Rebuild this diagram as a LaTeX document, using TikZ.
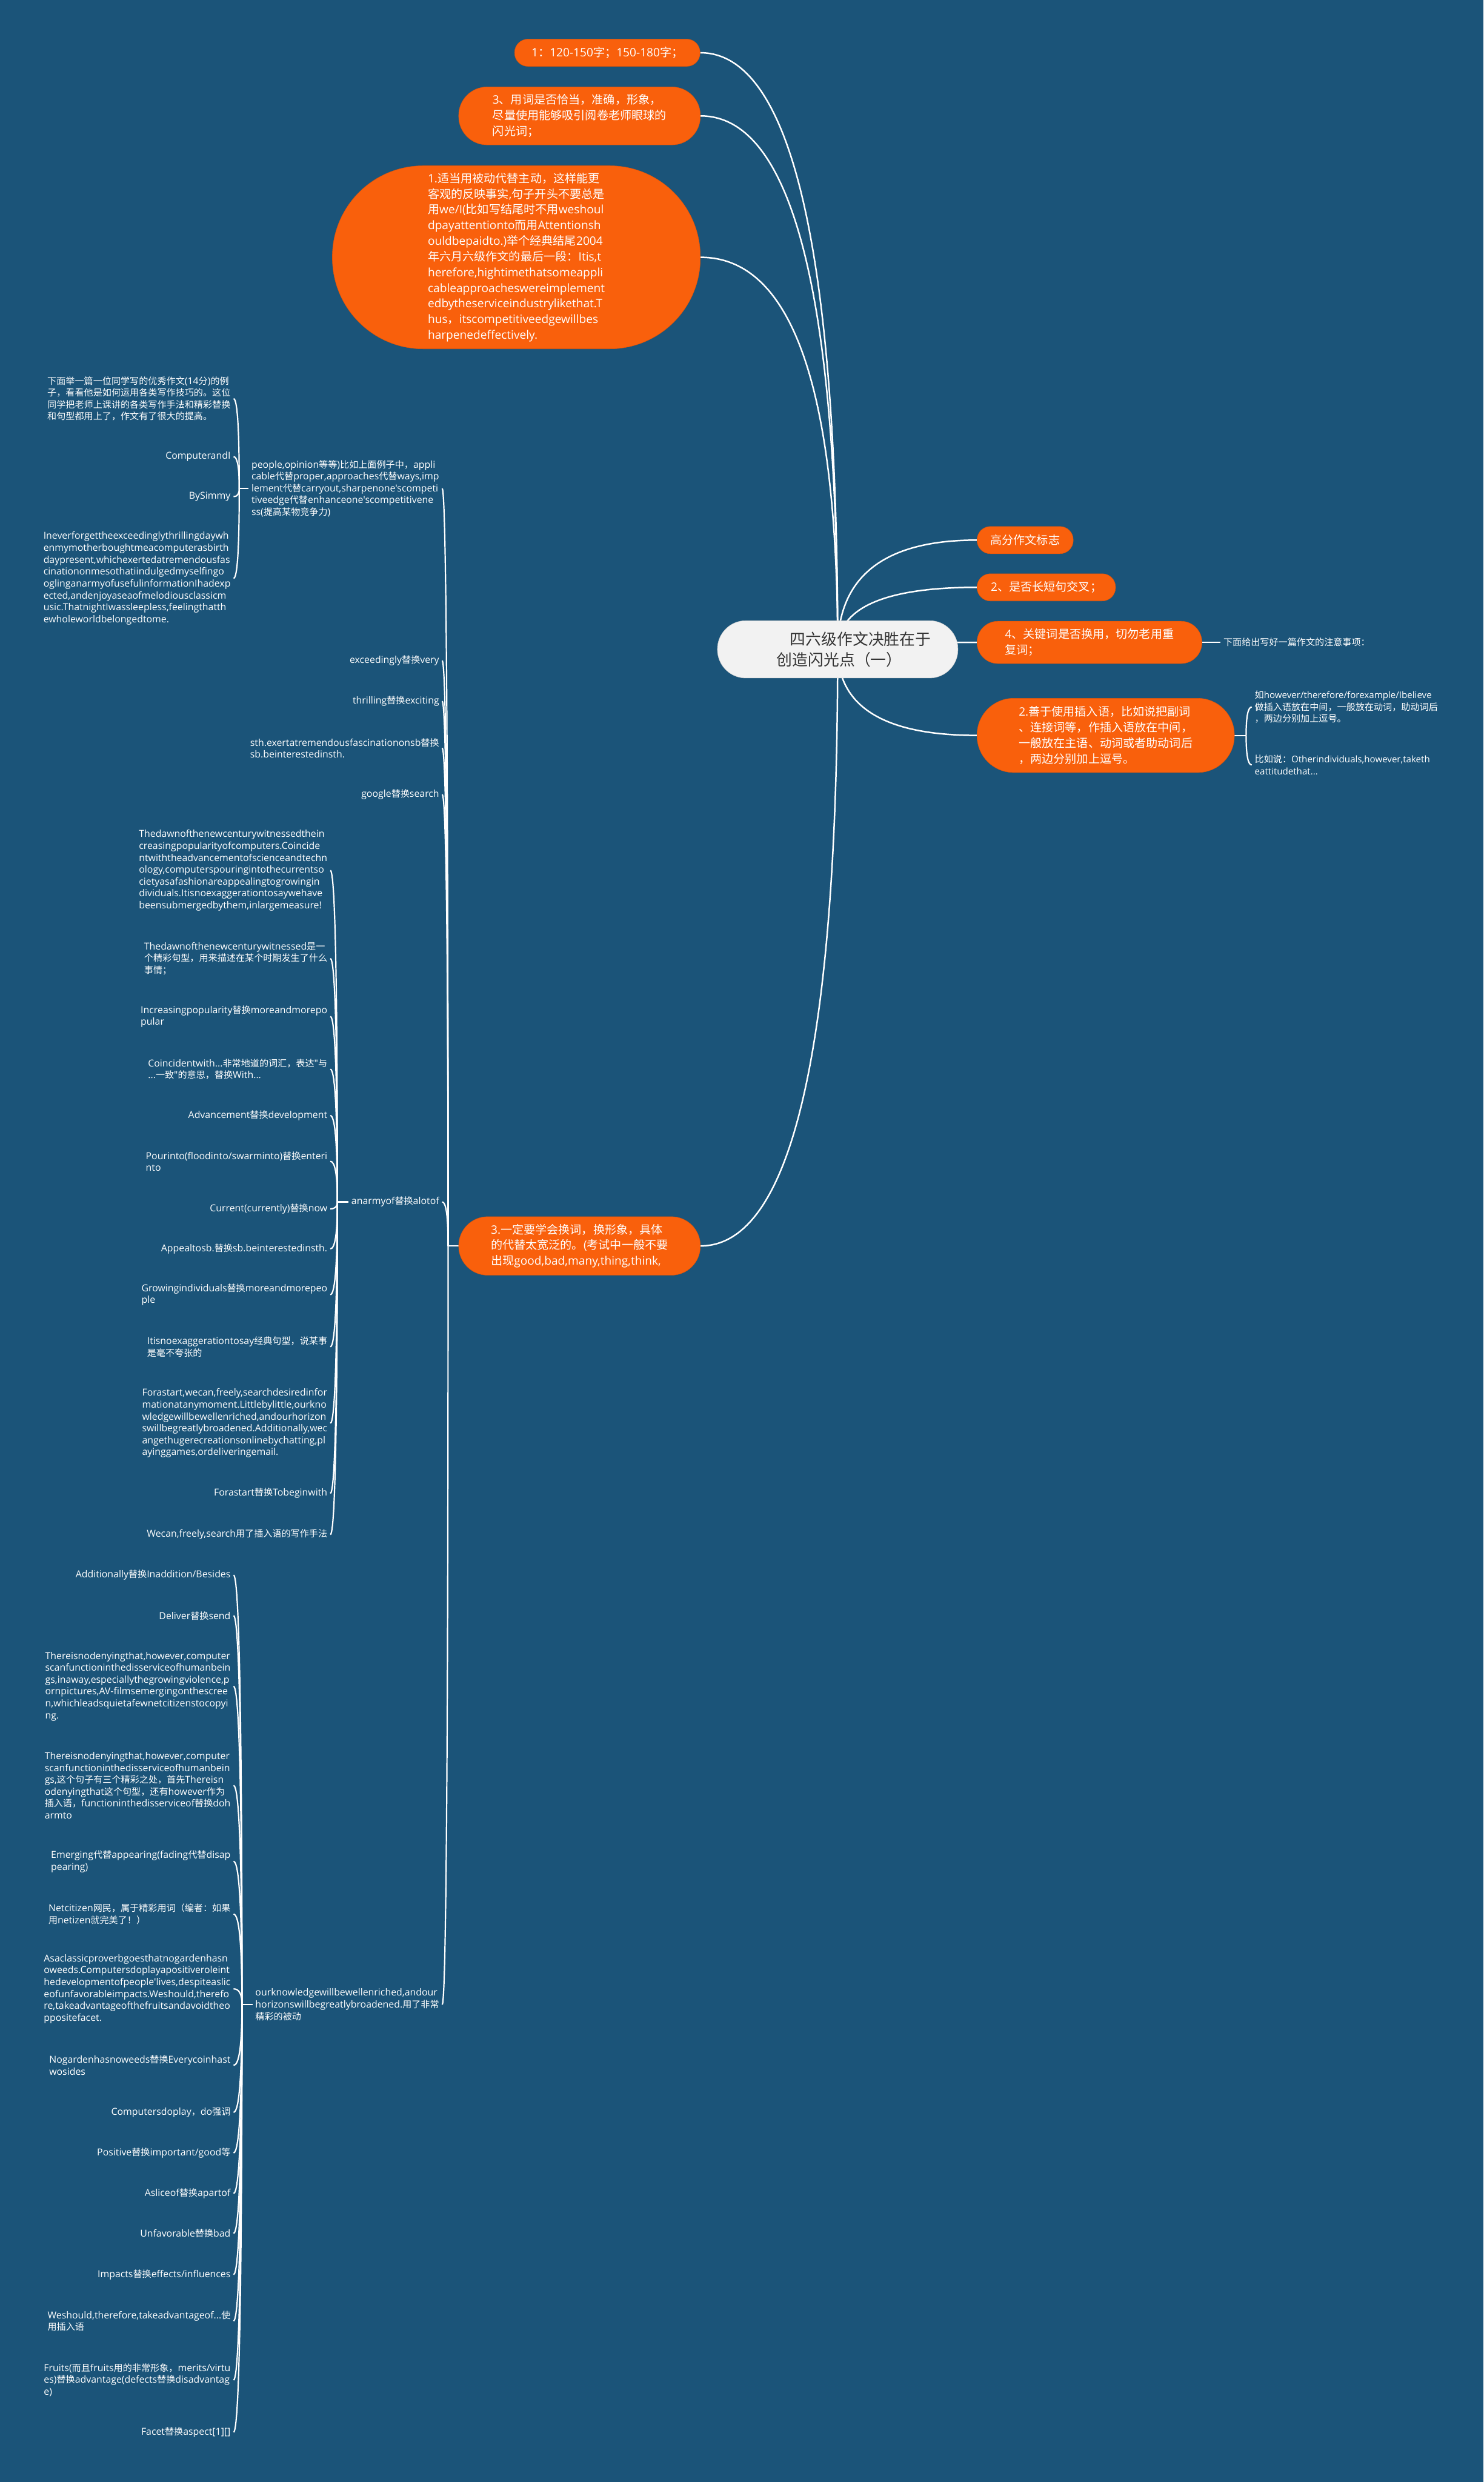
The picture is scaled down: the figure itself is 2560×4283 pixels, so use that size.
\documentclass[tikz,border=0pt]{standalone}
\usepackage{fontspec}
\setmainfont{Open Sans}
\newfontfamily\latf{Open Sans}
\newfontfamily\latfw[Scale=1.05]{Open Sans}
\newfontfamily\cjkf{Noto Sans CJK SC}
\def\curlat{\latf}
\usetikzlibrary{calc}
\chardef\mycjkclass=7
\makeatletter
\count@="21
\loop\ifnum\count@<"7F \XeTeXcharclass\count@=0 \advance\count@ by 1 \repeat
\count@="3000
\loop\ifnum\count@<"3040 \XeTeXcharclass\count@=\mycjkclass\relax \advance\count@ by 1 \repeat
\count@="4E00
\loop\ifnum\count@<"A000 \XeTeXcharclass\count@=\mycjkclass\relax \advance\count@ by 1 \repeat
\count@="FF00
\loop\ifnum\count@<"FFF0 \XeTeXcharclass\count@=\mycjkclass\relax \advance\count@ by 1 \repeat
\makeatother
\XeTeXinterchartoks 0 \mycjkclass = {\cjkf}
\XeTeXinterchartoks 4095 \mycjkclass = {\cjkf}
\XeTeXinterchartoks \mycjkclass 0 = {\curlat}
\XeTeXinterchartoks \mycjkclass 4095 = {\curlat}
\XeTeXinterchartokenstate=1
\definecolor{bgblue}{RGB}{27,84,121}
\definecolor{myorange}{RGB}{249,96,12}
\definecolor{rootfill}{RGB}{242,242,242}
\definecolor{roottext}{RGB}{51,51,51}
\pgfdeclarelayer{bglayer}
\pgfdeclarelayer{edgelayer}
\pgfsetlayers{bglayer,edgelayer,main}
\newcommand\qlink[3][]{%
  \coordinate (qB) at (#2 |- #3);
  \draw[#1] (#2) .. controls ($(#2)!0.6667!(qB)$) and ($(#3)!0.6667!(qB)$) .. (#3);}
\begin{document}
\begin{tikzpicture}[x=1pt,y=-1pt,
  onode/.style={fill=myorange, draw=myorange!88!black, line width=0.6pt, text=white,
    font=\def\curlat{\latf}\latf\fontsize{20}{27}\selectfont, align=left, inner sep=0pt},
  stext/.style={text=white, font=\def\curlat{\latf}\latf\fontsize{15.8}{20.5}\selectfont, align=left,
    inner xsep=5pt, inner ysep=2pt},
  ltext/.style={stext, font=\def\curlat{\latfw}\latfw\fontsize{15.8}{20.5}\selectfont},
  mainlink/.style={draw=white, line width=2.6pt},
  sublink/.style={draw=white, line width=2.3pt}]
\begin{pgfonlayer}{bglayer}
\fill[bgblue] (0,0) rectangle (2560,4283);
\end{pgfonlayer}
\path[use as bounding box] (0,0) rectangle (2560,4283);

% root
\node[fill=rootfill, draw=rootfill!85!black, line width=0.6pt, text=roottext, rounded corners=49pt,
  minimum width=415pt, minimum height=99pt, inner sep=0pt, align=left,
  font=\def\curlat{\latf}\latf\fontsize{27}{35}\selectfont] (root) at (1445.5,1120.5)
  {\hspace*{79pt}四六级作文决胜在于\\\hspace*{56pt}创造闪光点（一）};

% left orange nodes
\node[onode, rounded corners=23pt, minimum width=320pt, minimum height=47pt] (n1) at (1048,91)
  {1：120-150字；150-180字；};
\node[onode, rounded corners=49pt, minimum width=417pt, minimum height=100pt] (n3w) at (1000,200)
  {3、用词是否恰当，准确，形象，\\尽量使用能够吸引阅卷老师眼球的\\闪光词；};
\node[onode, rounded corners=157pt, minimum width=635pt, minimum height=316pt] (nbig) at (891,444)
  {1.适当用被动代替主动，这样能更\\客观的反映事实,句子开头不要总是\\用we/I(比如写结尾时不用weshoul\\dpayattentionto而用Attentionsh\\ouldbepaidto.)举个经典结尾2004\\年六月六级作文的最后一段：Itis,t\\herefore,hightimethatsomeappli\\cableapproacheswereimplement\\edbytheserviceindustrylikethat.T\\hus，itscompetitiveedgewillbes\\harpenedeffectively.};
\node[onode, rounded corners=50pt, minimum width=417pt, minimum height=101pt] (n3b) at (1000,2150)
  {3.一定要学会换词，换形象，具体\\的代替太宽泛的。(考试中一般不要\\出现good,bad,many,thing,think,};

% right orange nodes
\node[onode, rounded corners=23pt, minimum width=166pt, minimum height=47pt] (r1) at (1769,932) {高分作文标志};
\node[onode, rounded corners=23pt, minimum width=239pt, minimum height=47pt] (r2) at (1805.5,1013.5) {2、是否长短句交叉；};
\node[onode, rounded corners=36pt, minimum width=388pt, minimum height=73pt] (r4) at (1880,1108.5)
  {4、关键词是否换用，切勿老用重\\复词；};
\node[onode, rounded corners=63pt, minimum width=444pt, minimum height=128pt] (r2b) at (1908,1269)
  {2.善于使用插入语，比如说把副词\\、连接词等，作插入语放在中间，\\一般放在主语、动词或者助动词后\\，两边分别加上逗号。};

% right children
\node[stext, anchor=west] (rn) at (2106,1108.5) {下面给出写好一篇作文的注意事项：};
\node[stext, anchor=west] (rc1) at (2160,1220) {如however/therefore/forexample/Ibelieve\\做插入语放在中间，一般放在动词，助动词后\\，两边分别加上逗号。};
\node[stext, anchor=west] (rc2) at (2160,1320) {比如说：Otherindividuals,however,taketh\\eattitudethat...};

% level 1 (children of n3b)
\node[ltext, anchor=east] (La) at (763,843) {people,opinion等等)比如上面例子中，appli\\cable代替proper,approaches代替ways,imp\\lement代替carryout,sharpenone'scompeti\\tiveedge代替enhanceone'scompetitivene\\ss(提高某物竞争力)};
\node[ltext, anchor=east] (Lb) at (763,1140) {exceedingly替换very};
\node[ltext, anchor=east] (Lc) at (763,1210) {thrilling替换exciting};
\node[ltext, anchor=east] (Ld) at (763,1291) {sth.exertatremendousfascinationonsb替换\\sb.beinterestedinsth.};
\node[ltext, anchor=east] (Le) at (763,1371) {google替换search};
\node[ltext, anchor=east] (Lf) at (763,2074) {anarmyof替换alotof};
\node[ltext, anchor=east] (Lg) at (763,3459) {ourknowledgewillbewellenriched,andour\\horizonswillbegreatlybroadened.用了非常\\精彩的被动};

% children of La
\node[ltext, anchor=east] (P1) at (403,688) {下面举一篇一位同学写的优秀作文(14分)的例\\子，看看他是如何运用各类写作技巧的。这位\\同学把老师上课讲的各类写作手法和精彩替换\\和句型都用上了，作文有了很大的提高。};
\node[ltext, anchor=east] (P2) at (403,788) {ComputerandI};
\node[ltext, anchor=east] (P3) at (403,857) {BySimmy};
\node[ltext, anchor=east] (P4) at (403,998) {Ineverforgettheexceedinglythrillingdaywh\\enmymotherboughtmeacomputerasbirth\\daypresent,whichexertedatremendousfas\\cinationonmesothatiindulgedmyselfingo\\oglinganarmyofusefulinformationIhadexp\\ected,andenjoyaseaofmelodiousclassicm\\usic.ThatnightIwassleepless,feelingthatth\\ewholeworldbelongedtome.};

% children of Lf
\node[ltext, anchor=east] (A1) at (570,1502) {Thedawnofthenewcenturywitnessedthein\\creasingpopularityofcomputers.Coincide\\ntwiththeadvancementofscienceandtechn\\ology,computerspouringintothecurrentso\\cietyasafashionareappealingtogrowingin\\dividuals.Itisnoexaggerationtosaywehave\\beensubmergedbythem,inlargemeasure!};
\node[ltext, anchor=east] (A2) at (570,1654) {Thedawnofthenewcenturywitnessed是一\\个精彩句型，用来描述在某个时期发生了什么\\事情；};
\node[ltext, anchor=east] (A3) at (570,1754) {Increasingpopularity替换moreandmorepo\\pular};
\node[ltext, anchor=east] (A4) at (570,1845) {Coincidentwith...非常地道的词汇，表达"与\\...一致"的意思，替换With...};
\node[ltext, anchor=east] (A5) at (570,1925) {Advancement替换development};
\node[ltext, anchor=east] (A6) at (570,2004) {Pourinto(floodinto/swarminto)替换enteri\\nto};
\node[ltext, anchor=east] (A7) at (570,2086) {Current(currently)替换now};
\node[ltext, anchor=east] (A8) at (570,2155) {Appealtosb.替换sb.beinterestedinsth.};
\node[ltext, anchor=east] (A9) at (570,2234) {Growingindividuals替换moreandmorepeo\\ple};
\node[ltext, anchor=east] (A10) at (570,2324) {Itisnoexaggerationtosay经典句型，说某事\\是毫不夸张的};
\node[ltext, anchor=east] (A11) at (570,2456) {Forastart,wecan,freely,searchdesiredinfor\\mationatanymoment.Littlebylittle,ourkno\\wledgewillbewellenriched,andourhorizon\\swillbegreatlybroadened.Additionally,wec\\angethugerecreationsonlinebychatting,pl\\ayinggames,ordeliveringemail.};
\node[ltext, anchor=east] (A12) at (570,2577) {Forastart替换Tobeginwith};
\node[ltext, anchor=east] (A13) at (570,2648) {Wecan,freely,search用了插入语的写作手法};

% children of Lg
\node[ltext, anchor=east] (O1) at (403,2718) {Additionally替换Inaddition/Besides};
\node[ltext, anchor=east] (O2) at (403,2788) {Deliver替换send};
\node[ltext, anchor=east] (O3) at (403,2910) {Thereisnodenyingthat,however,computer\\scanfunctioninthedisserviceofhumanbein\\gs,inaway,especiallythegrowingviolence,p\\ornpictures,AV-filmsemergingonthescree\\n,whichleadsquietafewnetcitizenstocopyi\\ng.};
\node[ltext, anchor=east] (O4) at (403,3081) {Thereisnodenyingthat,however,computer\\scanfunctioninthedisserviceofhumanbein\\gs,这个句子有三个精彩之处，首先Thereisn\\odenyingthat这个句型，还有however作为\\插入语，functioninthedisserviceof替换doh\\armto};
\node[ltext, anchor=east] (O5) at (403,3212) {Emerging代替appearing(fading代替disap\\pearing)};
\node[ltext, anchor=east] (O6) at (403,3303) {Netcitizen网民，属于精彩用词（编者：如果\\用netizen就完美了！）};
\node[ltext, anchor=east] (O7) at (403,3432) {Asaclassicproverbgoesthatnogardenhasn\\oweeds.Computersdoplayapositiveroleint\\hedevelopmentofpeople'lives,despiteaslic\\eofunfavorableimpacts.Weshould,therefo\\re,takeadvantageofthefruitsandavoidtheo\\ppositefacet.};
\node[ltext, anchor=east] (O8) at (403,3564) {Nogardenhasnoweeds替换Everycoinhast\\wosides};
\node[ltext, anchor=east] (O9) at (403,3645) {Computersdoplay，do强调};
\node[ltext, anchor=east] (O10) at (403,3715) {Positive替换important/good等};
\node[ltext, anchor=east] (O11) at (403,3785) {Asliceof替换apartof};
\node[ltext, anchor=east] (O12) at (403,3854) {Unfavorable替换bad};
\node[ltext, anchor=east] (O13) at (403,3925) {Impacts替换effects/influences};
\node[ltext, anchor=east] (O14) at (403,4005) {Weshould,therefore,takeadvantageof...使\\用插入语};
\node[ltext, anchor=east] (O15) at (403,4107) {Fruits(而且fruits用的非常形象，merits/virtu\\es)替换advantage(defects替换disadvantag\\e)};
\node[ltext, anchor=east] (O16) at (403,4197) {Facet替换aspect[1][]};

% connectors
\begin{pgfonlayer}{edgelayer}
\qlink[mainlink]{root.center}{n1.east}
\qlink[mainlink]{root.center}{n3w.east}
\qlink[mainlink]{root.center}{nbig.east}
\qlink[mainlink]{root.center}{n3b.east}
\qlink[mainlink]{root.center}{r1.west}
\qlink[mainlink]{root.center}{r2.west}
\qlink[mainlink]{root.center}{r4.west}
\qlink[mainlink]{root.center}{r2b.west}
% right children
\draw[sublink] (r4.east) -- (rn.west);
\coordinate (rb) at ($(r2b.east)+(20,0)$);
\draw[sublink] (r2b.east) -- (rb);
\qlink[sublink]{rb}{rc1.west}
\qlink[sublink]{rb}{rc2.west}
% level 1
\coordinate (kb) at ($(n3b.west)+(-18,0)$);
\draw[sublink] (n3b.west) -- (kb);
\foreach \c in {La,Lb,Lc,Ld,Le,Lf,Lg}{\qlink[sublink]{kb}{\c.east}}
% people children
\coordinate (pb) at ($(La.west)+(-16,0)$);
\draw[sublink] (La.west) -- (pb);
\foreach \c in {P1,P2,P3,P4}{\qlink[sublink]{pb}{\c.east}}
% anarmyof children
\coordinate (ab) at ($(Lf.west)+(-19,0)$);
\draw[sublink] (Lf.west) -- (ab);
\foreach \c in {A1,A2,A3,A4,A5,A6,A7,A8,A9,A10,A11,A12,A13}{\qlink[sublink]{ab}{\c.east}}
% ourknowledge children
\coordinate (ob) at ($(Lg.west)+(-18,0)$);
\draw[sublink] (Lg.west) -- (ob);
\foreach \c in {O1,O2,O3,O4,O5,O6,O7,O8,O9,O10,O11,O12,O13,O14,O15,O16}{\qlink[sublink]{ob}{\c.east}}
\end{pgfonlayer}
\end{tikzpicture}
\end{document}
